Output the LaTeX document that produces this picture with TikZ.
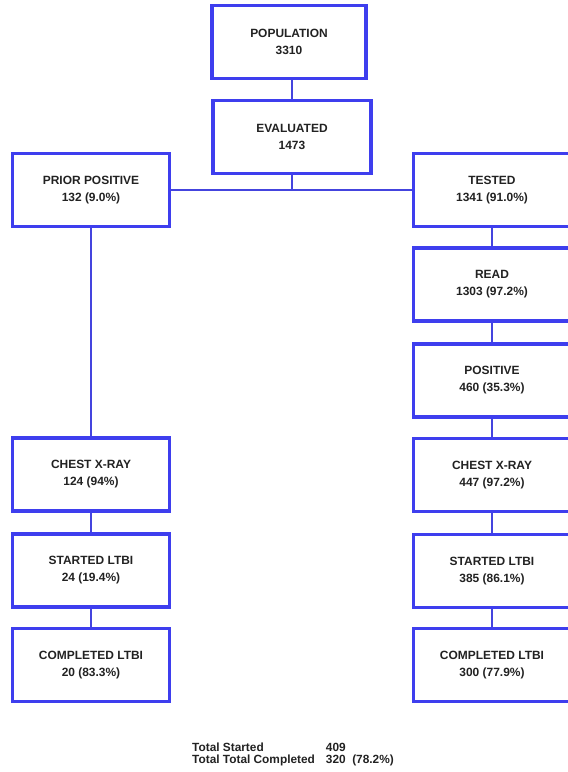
\documentclass[tikz,border=0pt]{standalone}
\usepackage{fontspec}
\setmainfont{Liberation Sans}
\usepackage{tikz}
\usepackage{xcolor}
\definecolor{boxblue}{RGB}{62,62,238}
\definecolor{lineblue}{RGB}{68,68,222}
\definecolor{txtgray}{RGB}{34,34,34}
\tikzstyle{stage} = [draw=boxblue, line width=3.8bp, fill=white, minimum width=157bp, minimum height=73bp, inner sep=0pt, align=center, text=txtgray, font=\fontsize{12}{17}\selectfont\bfseries]
\tikzstyle{link} = [draw=lineblue, line width=2bp]

\begin{document}
\begin{tikzpicture}[x=1bp, y=-1bp]
\useasboundingbox (0,0) rectangle (568,772);

% Top of the flow
\node[stage, minimum width=154bp] (pop) at (289,42) {POPULATION\\3310};
\node[stage, minimum width=158bp] (eval) at (292,137) {EVALUATED\\1473};

% Left branch
\node[stage] (prior) at (91,190) {PRIOR POSITIVE\\132 (9.0\%)};
\node[stage] (lchest) at (91,474.5) {CHEST X-RAY\\124 (94\%)};
\node[stage] (lstart) at (91,570.5) {STARTED LTBI\\24 (19.4\%)};
\node[stage] (lcomp) at (91,665) {COMPLETED LTBI\\20 (83.3\%)};

% Right branch
\node[stage] (tested) at (492,190) {TESTED\\1341 (91.0\%)};
\node[stage] (read) at (492,284.5) {READ\\1303 (97.2\%)};
\node[stage] (pos) at (492,380.5) {POSITIVE\\460 (35.3\%)};
\node[stage] (rchest) at (492,475) {CHEST X-RAY\\447 (97.2\%)};
\node[stage] (rstart) at (492,571) {STARTED LTBI\\385 (86.1\%)};
\node[stage] (rcomp) at (492,665) {COMPLETED LTBI\\300 (77.9\%)};

% Connectors
\draw[link] (pop.south -| eval.north) -- (eval.north);
\draw[link] (eval.south) -- (eval.south |- prior.east);
\draw[link] (prior.east) -- (tested.west);
\draw[link] (prior.south) -- (lchest.north);
\draw[link] (lchest.south) -- (lstart.north);
\draw[link] (lstart.south) -- (lcomp.north);
\draw[link] (tested.south) -- (read.north);
\draw[link] (read.south) -- (pos.north);
\draw[link] (pos.south) -- (rchest.north);
\draw[link] (rchest.south) -- (rstart.north);
\draw[link] (rstart.south) -- (rcomp.north);

% Totals
\node[anchor=west, inner sep=0pt, text=txtgray, font=\fontsize{11.9}{11.6}\selectfont\bfseries] (totals) at (192,755)
  {\begin{tabular}{@{}l@{\hspace{11bp}}l@{}}
   Total Started & 409\\
   Total Total Completed & 320\ \ (78.2\%)
   \end{tabular}};
\end{tikzpicture}
\end{document}
